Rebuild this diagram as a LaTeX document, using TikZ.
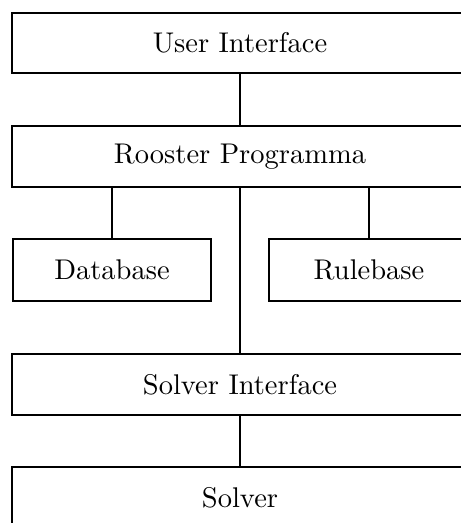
\documentclass[tikz,border=0pt]{standalone}
\usepackage{fontspec}
\usepackage{graphicx}
\usepackage{xcolor}
\usetikzlibrary{positioning}
\newcommand{\layertext}[1]{\scalebox{2.85}{#1}}
\tikzset{
  layerbox/.style={draw, line width=1.1pt, inner sep=0pt},
  layerline/.style={line width=1.1pt}
}
\begin{document}
\begin{tikzpicture}[x=1pt,y=1pt,yscale=-1,xscale=1]
\useasboundingbox (0,0) rectangle (461,523);
\clip (0,0) rectangle (461,523);

%Shape: Rectangle [id:ui]
\node [layerbox, minimum width=456pt, minimum height=60pt] (ui) at (240,43) {\layertext{User Interface}};
%Shape: Rectangle [id:rp]
\node [layerbox, minimum width=456pt, minimum height=61pt] (rp) at (240,156.5) {\layertext{Rooster Programma}};
%Shape: Rectangle [id:db]
\node [layerbox, minimum width=198pt, minimum height=62pt] (db) at (112,270) {\layertext{Database}};
%Shape: Rectangle [id:rb]
\node [layerbox, minimum width=200pt, minimum height=62pt] (rb) at (369,270) {\layertext{Rulebase}};
%Shape: Rectangle [id:si]
\node [layerbox, minimum width=456pt, minimum height=61pt] (si) at (240,384.5) {\layertext{Solver Interface}};
%Shape: Rectangle [id:sv]
\node [layerbox, minimum width=456pt, minimum height=62pt] (sv) at (240,498) {\layertext{Solver}};

%Straight Lines
\draw [layerline] (ui.south) -- (rp.north) ;
\draw [layerline] (rp.south) -- (si.north) ;
\draw [layerline] (db.north) -- (db.north |- rp.south) ;
\draw [layerline] (rb.north) -- (rb.north |- rp.south) ;
\draw [layerline] (si.south) -- (sv.north) ;

\end{tikzpicture}
\end{document}
